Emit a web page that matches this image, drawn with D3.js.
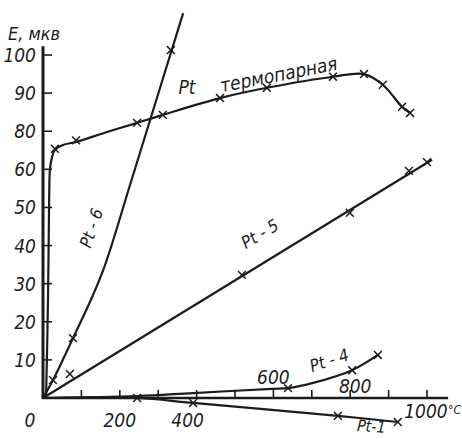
<!DOCTYPE html>
<html>
<head>
<meta charset="utf-8">
<script src="https://cdn.jsdelivr.net/npm/d3@7"></script>
<style>
  body { margin: 0; background: #fff; }
  text { font-family: "Liberation Sans Narrow", "DejaVu Sans Condensed", "Liberation Sans", sans-serif; font-style: italic; fill: #1c1c1c; }
</style>
</head>
<body>
<div id="chart"></div>
<script>
'use strict';

// temperature, deg C
const thermoT = [8, 13, 16, 18, 23, 31, 52, 86, 167, 245, 312, 461, 583, 755, 836, 885, 935, 956];
const thermoE = [0, 25.7, 52, 59.8, 63, 65.1, 66.4, 67.2, 69.8, 72.2, 74.3, 78.7, 81.4, 84.3, 85.0, 82.2, 76.4, 74.8];
const thermoMarkT = [31, 86, 245, 312, 461, 583, 755, 836, 885, 935, 956];
const thermoMarkE = [65.4, 67.6, 72.2, 74.3, 78.7, 81.4, 84.3, 85.0, 82.2, 76.4, 74.8];

const pt6T = [0, 26, 78, 128, 162, 230, 365];
const pt6E = [0, 4.7, 15.7, 26.5, 35, 57, 101];
const pt6MarkT = [26, 78, 333];
const pt6MarkE = [4.7, 15.7, 91.3];

const pt5T = [0, 1013];
const pt5E = [0, 62.5];
const pt5MarkT = [70, 518, 799, 953, 1000];
const pt5MarkE = [6.3, 32.3, 48.6, 59.6, 61.9];

const pt4T = [0, 245, 391, 596, 638, 701, 805, 872];
const pt4E = [0, 0.5, 1.3, 2.4, 2.6, 3.9, 7.3, 11.3];
const pt4MarkT = [638, 805, 872];
const pt4MarkE = [2.6, 7.3, 11.3];

const pt1T = [0, 245, 391, 768, 924];
const pt1E = [0, 0, -1.3, -4.7, -6.3];
const pt1MarkT = [245, 391, 768, 924];
const pt1MarkE = [0, -1.3, -4.7, -6.3];

// axis ticks (the scan prints no "70", labels jump 60 -> 80)
const yTickValues = [10, 20, 30, 40, 50, 60, 70, 80, 90];
const yTickLabels = ["10", "20", "30", "40", "50", "60", "80", "90", "100"];
const xTickValues = [100, 200, 300, 400, 500, 600, 700, 800, 900, 1000];
const xLabelValues = [0, 200, 400, 600, 800, 1000];
const xLabelTexts = ["0", "200", "400", "600", "800", "1000"];

var width = 462, height = 439;

var svg = d3.select("#chart").append("svg")
  .attr("width", width)
  .attr("height", height);

svg.append("rect").attr("width", width).attr("height", height).attr("fill", "#fff");

var x = d3.scaleLinear().domain([0, 1000]).range([43, 427]);
var y = d3.scaleLinear().domain([0, 90]).range([398, 55]);

// ****************** axes ***************************
var ink = "#1c1c1c";

svg.append("line")
  .attr("x1", x(0)).attr("x2", x(0))
  .attr("y1", y(0) + 1).attr("y2", y(92.3))
  .attr("stroke", ink).attr("stroke-width", 3);

svg.append("line")
  .attr("x1", x(0) - 1).attr("x2", x(1055))
  .attr("y1", y(0)).attr("y2", y(0))
  .attr("stroke", ink).attr("stroke-width", 2.6);

// y ticks point right, into the plot
svg.selectAll("line.ytick")
  .data(yTickValues)
  .enter().append("line")
  .attr("class", "ytick")
  .attr("x1", x(0)).attr("x2", x(0) + 9)
  .attr("y1", d => y(d)).attr("y2", d => y(d))
  .attr("stroke", ink).attr("stroke-width", 1.6);

svg.selectAll("text.ylab")
  .data(yTickValues)
  .enter().append("text")
  .attr("class", "ylab")
  .attr("x", 36)
  .attr("y", d => y(d) + 7)
  .attr("text-anchor", "end")
  .attr("font-size", 19)
  .text((d, i) => yTickLabels[i]);

// x ticks point up
svg.selectAll("line.xtick")
  .data(xTickValues)
  .enter().append("line")
  .attr("class", "xtick")
  .attr("x1", d => x(d)).attr("x2", d => x(d))
  .attr("y1", y(0)).attr("y2", y(0) - 8)
  .attr("stroke", ink).attr("stroke-width", 1.6);

// x labels: 600 and 800 sit above the axis in the scan
function xLabelPos(v) {
  if (v === 0) return [x(v) - 13, 427];
  if (v === 400) return [x(v) - 9, 427];
  if (v === 600) return [x(v), 384];
  if (v === 800) return [x(v) + 5, 393];
  if (v === 1000) return [x(v) - 1, 418];
  return [x(v), 427];
}

svg.selectAll("text.xlab")
  .data(xLabelValues)
  .enter().append("text")
  .attr("class", "xlab")
  .attr("x", d => xLabelPos(d)[0])
  .attr("y", d => xLabelPos(d)[1])
  .attr("text-anchor", "middle")
  .attr("font-size", 19)
  .text((d, i) => xLabelTexts[i]);

svg.append("text")
  .attr("x", x(1000) + 21)
  .attr("y", 414)
  .attr("font-size", 12)
  .text("°C");

svg.append("text")
  .attr("x", 8)
  .attr("y", 40)
  .attr("font-size", 18)
  .text("E, мкв");

// ****************** curves ***************************
var series = [
  {t: thermoT, e: thermoE, mt: thermoMarkT, me: thermoMarkE},
  {t: pt6T, e: pt6E, mt: pt6MarkT, me: pt6MarkE},
  {t: pt5T, e: pt5E, mt: pt5MarkT, me: pt5MarkE},
  {t: pt4T, e: pt4E, mt: pt4MarkT, me: pt4MarkE},
  {t: pt1T, e: pt1E, mt: pt1MarkT, me: pt1MarkE}
];

var line = d3.line()
  .x(d => x(d[0]))
  .y(d => y(d[1]))
  .curve(d3.curveCatmullRom.alpha(0.5));

var cross = d3.symbol().type(d3.symbolX).size(42);

series.forEach(function(s) {
  var pts = s.t.map((t, i) => [t, s.e[i]]);
  svg.append("path")
    .datum(pts)
    .attr("d", line)
    .attr("fill", "none")
    .attr("stroke", ink)
    .attr("stroke-width", 2.2);

  var marks = s.mt.map((t, i) => [t, s.me[i]]);
  svg.selectAll(null)
    .data(marks)
    .enter().append("path")
    .attr("d", cross)
    .attr("transform", d => "translate(" + x(d[0]) + "," + y(d[1]) + ")")
    .attr("fill", "none")
    .attr("stroke", ink)
    .attr("stroke-width", 1.5);
});

// ****************** curve labels ***************************
function label(txt, cx, cy, angle, size) {
  svg.append("text")
    .attr("transform", "translate(" + cx + "," + cy + ") rotate(" + angle + ")")
    .attr("text-anchor", "middle")
    .attr("font-size", size)
    .text(txt);
}

label("Pt", 187, 94, 0, 19);
label("термопарная", 280, 81, -11, 19);
label("Pt - 6", 97, 230, -71, 17);
label("Pt - 5", 263, 239, -31, 17);
label("Pt - 4", 331, 366, -18, 17);
label("Pt-1", 371, 432, 4, 16);
</script>
</body>
</html>
